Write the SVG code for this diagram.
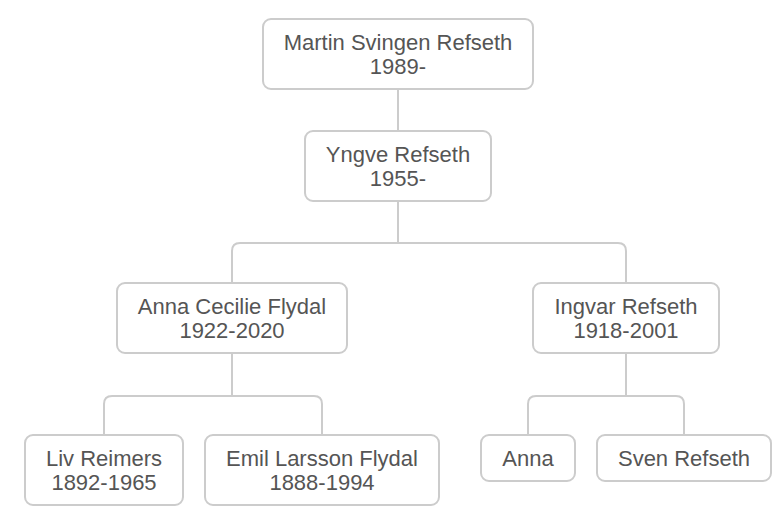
<svg xmlns="http://www.w3.org/2000/svg" width="784" height="528" viewBox="0 0 784 528">
<style>
.box{fill:#fff;stroke:#ccc;stroke-width:2}
.lbl{font-family:"Liberation Sans",Arial,Helvetica,sans-serif;font-size:22px;fill:#555;text-anchor:middle}
.con{fill:none;stroke:#ccc;stroke-width:2}
</style>
<rect width="784" height="528" fill="#fff"/>
<g id="connectors">
<path class="con" d="M398 89V131"/>
<path class="con" d="M398 201V243M232 283V251Q232 243 240 243H618Q626 243 626 251V283"/>
<path class="con" d="M232 353V396M104 435V404Q104 396 112 396H314Q322 396 322 404V435"/>
<path class="con" d="M626 353V396M528 435V404Q528 396 536 396H676Q684 396 684 404V435"/>
</g>
<g id="martin">
<rect class="box" x="263" y="19" width="270" height="70" rx="8"/>
<text class="lbl" x="398" y="50">Martin Svingen Refseth</text>
<text class="lbl" x="398" y="74">1989-</text>
</g>
<g id="yngve">
<rect class="box" x="305" y="131" width="186" height="70" rx="8"/>
<text class="lbl" x="398" y="162">Yngve Refseth</text>
<text class="lbl" x="398" y="186">1955-</text>
</g>
<g id="anna-cecilie">
<rect class="box" x="117" y="283" width="230" height="70" rx="8"/>
<text class="lbl" x="232" y="314">Anna Cecilie Flydal</text>
<text class="lbl" x="232" y="338">1922-2020</text>
</g>
<g id="ingvar">
<rect class="box" x="533" y="283" width="186" height="70" rx="8"/>
<text class="lbl" x="626" y="314">Ingvar Refseth</text>
<text class="lbl" x="626" y="338">1918-2001</text>
</g>
<g id="liv">
<rect class="box" x="25" y="435" width="158" height="70" rx="8"/>
<text class="lbl" x="104" y="466">Liv Reimers</text>
<text class="lbl" x="104" y="490">1892-1965</text>
</g>
<g id="emil">
<rect class="box" x="205" y="435" width="234" height="70" rx="8"/>
<text class="lbl" x="322" y="466">Emil Larsson Flydal</text>
<text class="lbl" x="322" y="490">1888-1994</text>
</g>
<g id="anna">
<rect class="box" x="481" y="435" width="94" height="46" rx="8"/>
<text class="lbl" x="528" y="466">Anna</text>
</g>
<g id="sven">
<rect class="box" x="597" y="435" width="174" height="46" rx="8"/>
<text class="lbl" x="684" y="466">Sven Refseth</text>
</g>
</svg>
